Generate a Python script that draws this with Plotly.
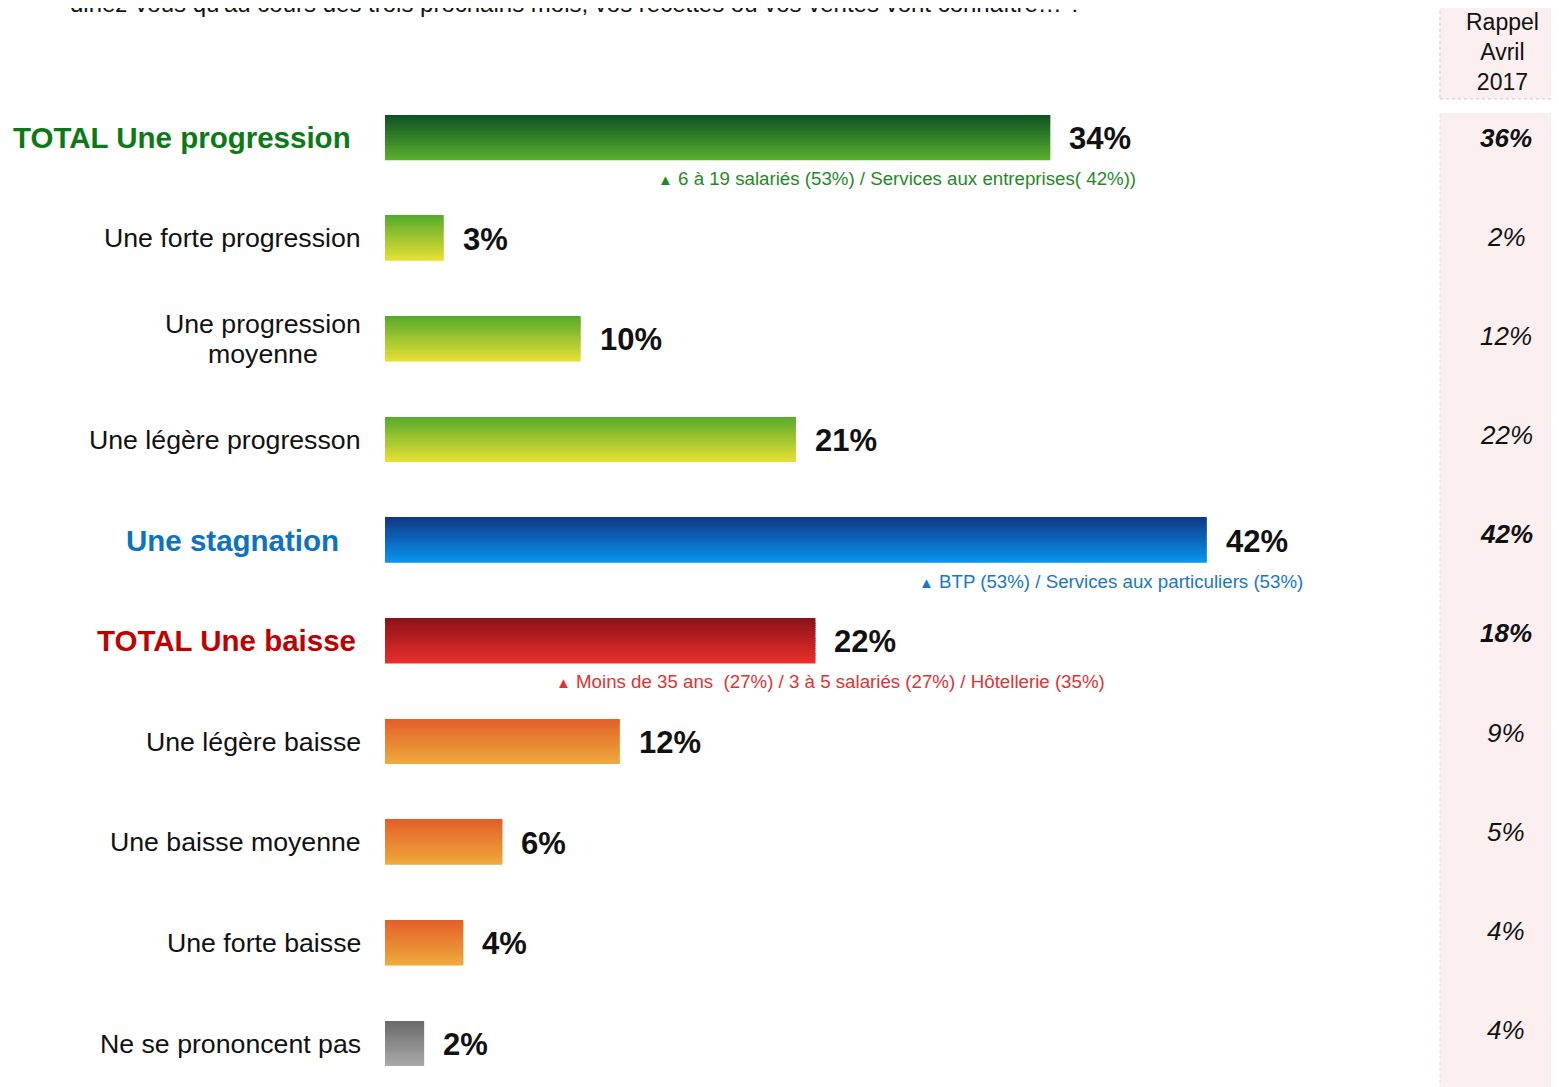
import plotly.graph_objects as go

# --- data -------------------------------------------------------------
categories = [
    "TOTAL Une progression",
    "Une forte progression",
    "Une progression<br>moyenne",
    "Une légère progresson",
    "Une stagnation",
    "TOTAL Une baisse",
    "Une légère baisse",
    "Une baisse moyenne",
    "Une forte baisse",
    "Ne se prononcent pas",
]
values = [34, 3, 10, 21, 42, 22, 12, 6, 4, 2]
rappel_avril_2017 = [36, 2, 12, 22, 42, 18, 9, 5, 4, 4]
bar_group = ["prog_total", "prog", "prog", "prog", "stag", "baisse_total",
             "baisse", "baisse", "baisse", "nsp"]

notes = {
    "TOTAL Une progression": "6 à 19 salariés (53%) / Services aux entreprises( 42%))",
    "Une stagnation": "BTP (53%) / Services aux particuliers (53%)",
    "TOTAL Une baisse": "Moins de 35 ans  (27%) / 3 à 5 salariés (27%) / Hôtellerie (35%)",
}
question = "diriez-vous qu'au cours des trois prochains mois, vos recettes ou vos ventes vont connaître… ?"

# --- styles -----------------------------------------------------------
FONT = "Liberation Sans, Arial, sans-serif"
gradients = {  # (top, bottom)
    "prog_total": ("#0c5223", "#58ae2b"),
    "prog": ("#58ab2c", "#e4df33"),
    "stag": ("#103886", "#0794ee"),
    "baisse_total": ("#8c1219", "#e82e2b"),
    "baisse": ("#e4602a", "#efa83b"),
    "nsp": ("#6a6a6a", "#a8a8a8"),
}
emphasis = {  # label colour, right edge shift (px from bar start), note colour, note right edge (x units)
    "TOTAL Une progression": ("#0b7a16", -32, "#1f8a1f", 38.5),
    "Une stagnation": ("#0e72c2", -44, "#1a76c6", 47.0),
    "TOTAL Une baisse": ("#c00000", -27, "#e23232", 36.9),
}
BAR_W = 0.447
SLICES = 24


def hex_to_rgb(h):
    h = h.lstrip("#")
    return tuple(int(h[i:i + 2], 16) for i in (0, 2, 4))


def mix(c1, c2, t):
    a, b = hex_to_rgb(c1), hex_to_rgb(c2)
    return "rgb({},{},{})".format(*[round(a[i] + (b[i] - a[i]) * t) for i in range(3)])


fig = go.Figure()

# vertical gradient bars built from thin overlaid slices
for k in range(SLICES):
    t = k / (SLICES - 1)
    colors = [mix(gradients[g][0], gradients[g][1], t) for g in bar_group]
    fig.add_trace(go.Bar(
        x=values, y=categories, orientation="h",
        width=BAR_W / SLICES * 1.05,
        offset=-BAR_W / 2 + k * BAR_W / SLICES,
        marker=dict(color=colors, line_width=0),
        hoverinfo="skip", showlegend=False,
    ))

annotations = []
for i, (cat, val, old) in enumerate(zip(categories, values, rappel_avril_2017)):
    emph = cat in emphasis
    # category label (one annotation per line for tighter line spacing)
    if emph:
        col, shift, note_col, note_x = emphasis[cat]
    else:
        col, shift = "#111111", -22
    lines = cat.split("<br>")
    for j, line in enumerate(lines):
        if len(lines) > 1:
            # wrapped labels are centred
            anchor, xs = "center", -122
        else:
            anchor, xs = "right", shift
        annotations.append(dict(
            x=0, y=cat, xref="x", yref="y",
            text=f"<b>{line}</b>" if emph else line, showarrow=False,
            xanchor=anchor, yanchor="middle", xshift=xs,
            yshift=(len(lines) - 1) * 15 - j * 30,
            font=dict(family=FONT, size=29.5 if emph else 26.7, color=col),
        ))
    # value label
    annotations.append(dict(
        x=val, y=cat, xref="x", yref="y", text=f"<b>{val}%</b>", showarrow=False,
        xanchor="left", yanchor="middle", xshift=17, yshift=-1,
        font=dict(family=FONT, size=31, color="#111111"),
    ))
    # significance note
    if cat in notes:
        annotations.append(dict(
            x=note_x, y=cat, xref="x", yref="y",
            text="<span style='font-size:15px'>▲</span> " + notes[cat],
            showarrow=False, xanchor="right", yanchor="middle", yshift=-41,
            font=dict(family=FONT, size=18.7, color=note_col),
        ))
    # rappel avril 2017
    txt = f"<i><b>{old}%</b></i>" if emph else f"<i>{old}%</i>"
    annotations.append(dict(
        x=0.9549, y=cat, xref="paper", yref="y", text=txt, showarrow=False,
        xanchor="center", yanchor="middle", yshift=1.5 * i,
        font=dict(family=FONT, size=26, color="#111111"),
    ))

annotations.append(dict(
    x=0.9515, y=1.035, xref="paper", yref="paper", text="Rappel<br>Avril<br>2017",
    showarrow=False, xanchor="center", yanchor="middle", align="center",
    font=dict(family=FONT, size=23, color="#111111"),
))
annotations.append(dict(
    x=-0.27, y=1.068, xref="paper", yref="paper", text=question,
    showarrow=False, xanchor="left", yanchor="bottom",
    font=dict(family=FONT, size=24, color="#111111"),
))

shapes = [
    dict(type="rect", xref="paper", yref="paper", x0=0.8986, x1=1.02, y0=-0.02, y1=0.974,
         fillcolor="#fbeff0", line=dict(width=0), layer="below"),
    dict(type="line", xref="paper", yref="paper", x0=0.8986, x1=0.8986, y0=-0.02, y1=0.974,
         line=dict(color="#e6dcdc", width=1, dash="dot"), layer="below"),
    dict(type="rect", xref="paper", yref="paper", x0=0.8986, x1=0.9983, y0=0.988, y1=1.083,
         fillcolor="#fbeff0", line=dict(color="#cfc6c6", width=1, dash="dot"), layer="below"),
]

fig.update_layout(
    width=1559, height=1087,
    margin=dict(l=377, r=8, t=79, b=8),
    barmode="overlay",
    plot_bgcolor="white", paper_bgcolor="white",
    xaxis=dict(range=[0, 60], visible=False, fixedrange=True),
    yaxis=dict(type="category", categoryarray=categories, range=[9.432, -0.502],
               visible=False, fixedrange=True),
    annotations=annotations,
    shapes=shapes,
    font=dict(family=FONT),
)

fig.write_html("out.html")
